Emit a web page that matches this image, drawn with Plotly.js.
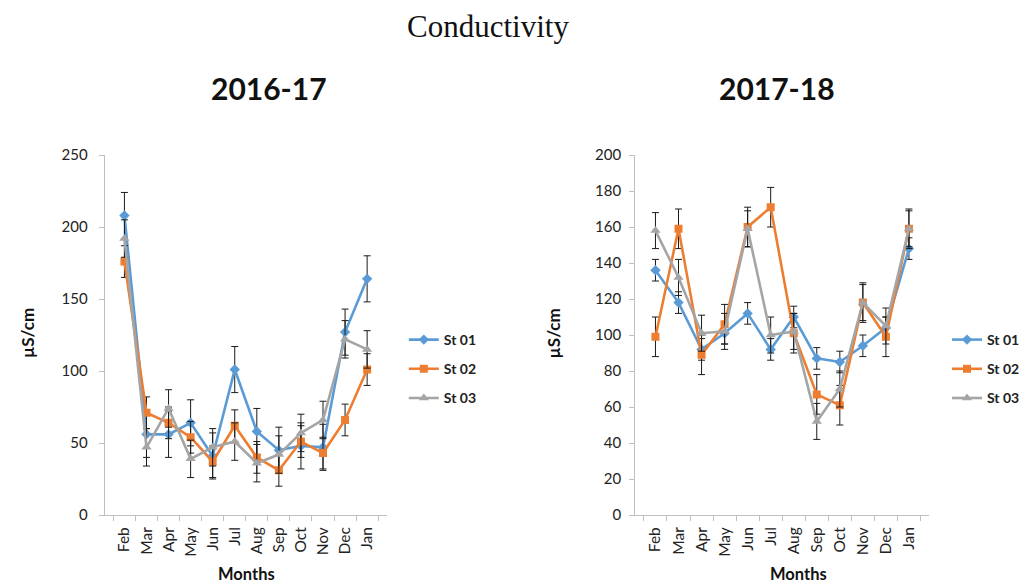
<!DOCTYPE html>
<html>
<head>
<meta charset="utf-8">
<script src="https://cdn.plot.ly/plotly-3.0.1.min.js"></script>
<style>
  html, body { margin: 0; padding: 0; background: #fff; }
  #chart { width: 1025px; height: 586px; }
</style>
</head>
<body>
<div id="chart"></div>
<script>
// Monthly conductivity (µS/cm) at three stations, two sampling years
const months = ['Feb', 'Mar', 'Apr', 'May', 'Jun', 'Jul', 'Aug', 'Sep', 'Oct', 'Nov', 'Dec', 'Jan'];
const stations = ['St 01', 'St 02', 'St 03'];

// 2016-17
const st01_1617 = [208, 56, 56, 64, 41, 101, 58, 45, 48, 47, 127, 164];
const st02_1617 = [176, 71, 64, 54, 37, 62, 40, 31, 51, 43, 66, 101];
const st03_1617 = [192, 47, 74, 39, 47, 51, 36, 42, 57, 66, 122, 115];
const st01_1617_err = [16, 16, 16, 16, 16, 16, 16, 16, 16, 16, 16, 16];
const st02_1617_err = [11, 11, 11, 11, 11, 11, 11, 11, 11, 11, 11, 11];
const st03_1617_err = [13, 13, 13, 13, 13, 13, 13, 13, 13, 13, 13, 13];

// 2017-18
const st01_1718 = [136, 118, 92, 101, 112, 92, 110, 87, 85, 94, 104, 148];
const st02_1718 = [99, 159, 89, 106, 160, 171, 101, 67, 61, 118, 99, 159];
const st03_1718 = [158, 132, 101, 102, 159, 100, 102, 52, 70, 118, 105, 159];
const st01_1718_err = [6, 6, 6, 6, 6, 6, 6, 6, 6, 6, 6, 6];
const st02_1718_err = [11, 11, 11, 11, 11, 11, 11, 11, 11, 11, 11, 11];
const st03_1718_err = [10, 10, 10, 10, 10, 10, 10, 10, 10, 10, 10, 10];

const colors = ['#5B9BD5', '#ED7D31', '#A5A5A5'];
const symbols = ['diamond', 'square', 'triangle-up'];
const markerSizes = [8, 8, 9];
const FONT = 'Lato, "Open Sans", sans-serif';

function series(y, err, idx, xa, ya, legend) {
  return {
    type: 'scatter',
    mode: 'lines+markers',
    name: stations[idx],
    x: months,
    y: y,
    xaxis: xa,
    yaxis: ya,
    legend: legend,
    legendgroup: legend + '_' + idx,
    line: { color: colors[idx], width: 2.6 },
    marker: { color: colors[idx], symbol: symbols[idx], size: markerSizes[idx] },
    error_y: { type: 'data', array: err, visible: true, color: '#1a1a1a', thickness: 1, width: 3.5 }
  };
}

const data = [
  series(st01_1617, st01_1617_err, 0, 'x', 'y', 'legend'),
  series(st02_1617, st02_1617_err, 1, 'x', 'y', 'legend'),
  series(st03_1617, st03_1617_err, 2, 'x', 'y', 'legend'),
  series(st01_1718, st01_1718_err, 0, 'x2', 'y2', 'legend2'),
  series(st02_1718, st02_1718_err, 1, 'x2', 'y2', 'legend2'),
  series(st03_1718, st03_1718_err, 2, 'x2', 'y2', 'legend2')
];

const yDomain = [1 - 515 / 586, 1 - 155 / 586];

function xAxis(domain, anchor) {
  return {
    domain: domain,
    anchor: anchor,
    type: 'category',
    categoryorder: 'array',
    categoryarray: months,
    tickson: 'boundaries',
    ticks: 'outside',
    ticklen: 5,
    tickcolor: '#bfbfbf',
    tickangle: -90,
    ticklabelstandoff: 5,
    tickfont: { family: FONT, size: 15.5, color: '#222' },
    showline: true,
    linecolor: '#bfbfbf',
    linewidth: 1,
    showgrid: false,
    zeroline: false,
    fixedrange: true
  };
}

function yAxis(domain, anchor, range, dtick, standoff) {
  return {
    domain: domain,
    anchor: anchor,
    range: range,
    dtick: dtick,
    ticks: 'outside',
    ticklen: 5,
    tickcolor: '#bfbfbf',
    ticklabelstandoff: standoff,
    tickfont: { family: FONT, size: 15, color: '#222' },
    showline: true,
    linecolor: '#bfbfbf',
    linewidth: 1,
    showgrid: false,
    zeroline: false,
    fixedrange: true
  };
}

function legendBox(x) {
  return {
    x: x,
    y: 1 - 369 / 586,
    xanchor: 'left',
    yanchor: 'middle',
    bgcolor: 'rgba(0,0,0,0)',
    font: { family: FONT, size: 14, color: '#222', weight: 'bold' },
    tracegroupgap: 8,
    itemwidth: 30
  };
}

function label(text, x, y, size, opts) {
  return Object.assign({
    text: text,
    xref: 'paper',
    yref: 'paper',
    x: x / 1025,
    y: 1 - y / 586,
    xanchor: 'center',
    yanchor: 'middle',
    borderpad: 0,
    showarrow: false,
    font: { family: FONT, size: size, color: '#111', weight: 'bold' }
  }, opts || {});
}

const layout = {
  width: 1025,
  height: 586,
  margin: { l: 0, r: 0, t: 0, b: 0 },
  paper_bgcolor: '#fff',
  plot_bgcolor: '#fff',
  showlegend: true,
  title: {
    text: 'Conductivity',
    x: 488 / 1025,
    xanchor: 'center',
    y: 1 - 26 / 586,
    yanchor: 'middle',
    font: { family: '"Liberation Serif", "DejaVu Serif", serif', size: 31, color: '#111' }
  },
  xaxis: xAxis([105 / 1025, 388 / 1025], 'y'),
  yaxis: yAxis(yDomain, 'x', [0, 250], 50, 8),
  xaxis2: xAxis([637 / 1025, 932 / 1025], 'y2'),
  yaxis2: yAxis(yDomain, 'x2', [0, 200], 20, 5),
  legend: legendBox(405 / 1025),
  legend2: legendBox(950 / 1025),
  annotations: [
    label('2016-17', 270, 88, 30),
    label('2017-18', 779, 88, 30),
    label('Months', 247, 574, 16.5),
    label('Months', 801, 574, 16.5),
    label('µS/cm', 27, 333, 17, { textangle: -90 }),
    label('µS/cm', 555, 333, 17, { textangle: -90 })
  ]
};

Plotly.newPlot('chart', data, layout, { displayModeBar: false, staticPlot: true });
</script>
</body>
</html>
